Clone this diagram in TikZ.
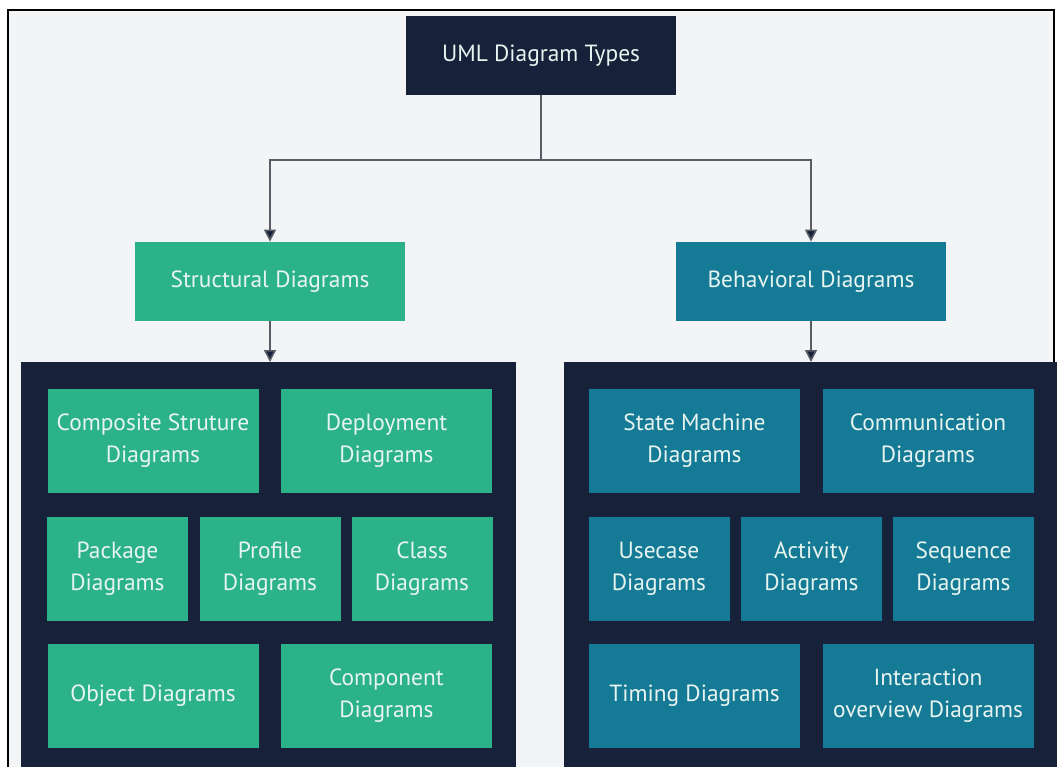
\documentclass[tikz,border=0pt]{standalone}
\usepackage{fontspec}
\setmainfont{PT Sans}
\definecolor{navy1}{RGB}{23, 34, 58}
\definecolor{green1}{RGB}{43, 178, 136}
\definecolor{teal1}{RGB}{21, 122, 150}
\definecolor{bggray}{RGB}{243, 244, 246}
\definecolor{linegray}{RGB}{88, 92, 102}
\definecolor{textlight}{RGB}{232, 244, 240}
\usetikzlibrary{arrows.meta, positioning}

\begin{document}
\begin{tikzpicture}[x=0.5pt, y=-0.5pt,
  box/.style={inner sep=0pt, align=center, font=\fontsize{11.7}{16}\selectfont, text=textlight},
  headbox/.style={box, minimum width=135pt, minimum height=39.5pt},
  sbox/.style={box, fill=green1},
  bbox/.style={box, fill=teal1},
  wide/.style={minimum width=105.5pt, minimum height=52pt},
  narrow/.style={minimum width=70.5pt, minimum height=52pt},
  panel/.style={fill=navy1, inner sep=0pt},
  conn/.style={draw=linegray, line width=0.8pt},
  arr/.style={conn, -{Triangle[length=6pt, width=6pt, fill=navy1]}},
]
\useasboundingbox (0,0) rectangle (1057,767);
\clip (0,0) rectangle (1057,767);
\fill[white] (0,0) rectangle (1057,767);
\draw[fill=bggray, line width=1.2pt] (8,10) rectangle (1054,800);

% Top level
\node[headbox, fill=navy1] (uml) at (541, 55.5) {UML Diagram Types};
\node[headbox, fill=green1] (struct) at (270, 281.5) {Structural Diagrams};
\node[headbox, fill=teal1] (behav) at (811, 281.5) {Behavioral Diagrams};

\coordinate (split) at (541, 160);
\draw[conn] (uml.south) -- (split);
\draw[arr] (split) -| (struct.north);
\draw[arr] (split) -| (behav.north);

% Panels
\node[panel, minimum width=247.5pt, minimum height=214pt, anchor=north west] (spanel) at (21, 362) {};
\node[panel, minimum width=248pt, minimum height=214pt, anchor=north west] (bpanel) at (564, 362) {};

\draw[arr] (struct.south) -- (struct.south |- spanel.north);
\draw[arr] (behav.south) -- (behav.south |- bpanel.north);

% Structural diagrams
\node[sbox, wide] (comp) at (153, 441) {Composite Struture\\Diagrams};
\node[sbox, wide] (deploy) at (386.5, 441) {Deployment\\Diagrams};
\node[sbox, narrow] (pkg) at (117.5, 569) {Package\\Diagrams};
\node[sbox, narrow] (prof) at (270, 569) {Profile\\Diagrams};
\node[sbox, narrow] (class) at (422, 569) {Class\\Diagrams};
\node[sbox, wide] (obj) at (153, 696) {Object Diagrams};
\node[sbox, wide] (compo) at (386.5, 696) {Component\\Diagrams};

% Behavioral diagrams
\node[bbox, wide] (state) at (694.5, 441) {State Machine\\Diagrams};
\node[bbox, wide] (commu) at (928, 441) {Communication\\Diagrams};
\node[bbox, narrow] (usecase) at (659, 569) {Usecase\\Diagrams};
\node[bbox, narrow] (activ) at (811.5, 569) {Activity\\Diagrams};
\node[bbox, narrow] (seq) at (963.5, 569) {Sequence\\Diagrams};
\node[bbox, wide] (timing) at (694.5, 696) {Timing Diagrams};
\node[bbox, wide] (inter) at (928, 696) {Interaction\\overview Diagrams};
\end{tikzpicture}
\end{document}
